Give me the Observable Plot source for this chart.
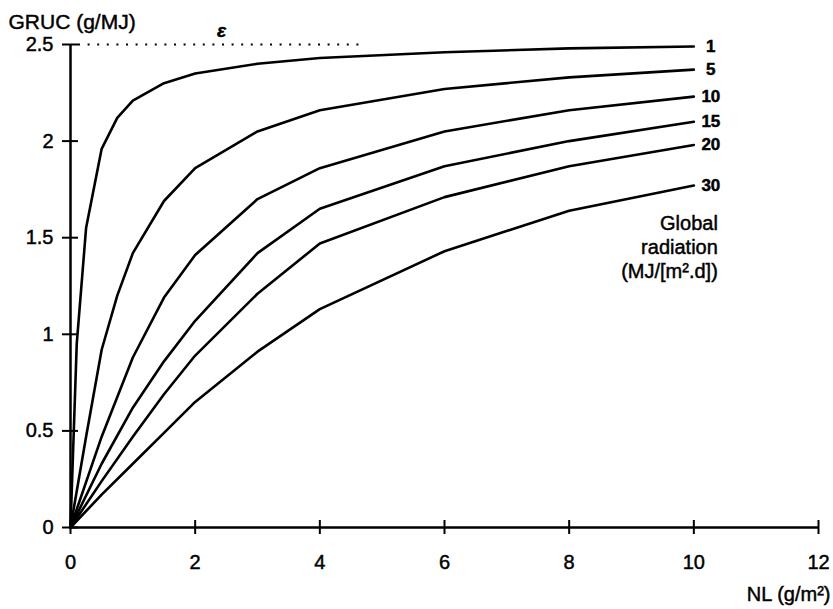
<!DOCTYPE html>
<html>
<head>
<meta charset="utf-8">
<script src="https://cdn.jsdelivr.net/npm/d3@7"></script>
<script src="https://cdn.jsdelivr.net/npm/@observablehq/plot@0.6"></script>
<style>
  body { margin: 0; background: #fff; }
  #chart svg { display: block; }
  #chart svg text { paint-order: stroke; stroke: #000; stroke-width: 0.45px; }
</style>
</head>
<body>
<div id="chart"></div>
<script>
// Growth radiation use coefficient (GRUC) against leaf nitrogen (NL),
// one curve per daily global radiation level.
const radiation = [1, 5, 10, 15, 20, 30];

const nlR1 = [0, 0.1, 0.25, 0.5, 0.75, 1, 1.5, 2, 3, 4, 6, 8, 10];
const grucR1 = [0, 0.95, 1.55, 1.96, 2.12, 2.21, 2.30, 2.35, 2.40, 2.43, 2.46, 2.48, 2.49];

const nlR5 = [0, 0.25, 0.5, 0.75, 1, 1.5, 2, 3, 4, 6, 8, 10];
const grucR5 = [0, 0.47, 0.92, 1.20, 1.42, 1.69, 1.86, 2.05, 2.16, 2.27, 2.33, 2.37];

const nlR10 = [0, 0.5, 1, 1.5, 2, 3, 4, 6, 8, 10];
const grucR10 = [0, 0.47, 0.88, 1.19, 1.41, 1.70, 1.86, 2.05, 2.16, 2.23];

const nlR15 = [0, 0.5, 1, 1.5, 2, 3, 4, 6, 8, 10];
const grucR15 = [0, 0.33, 0.62, 0.86, 1.07, 1.42, 1.65, 1.87, 2.00, 2.10];

const nlR20 = [0, 0.5, 1, 1.5, 2, 3, 4, 6, 8, 10];
const grucR20 = [0, 0.24, 0.47, 0.69, 0.89, 1.21, 1.47, 1.71, 1.87, 1.98];

const nlR30 = [0, 0.5, 1, 1.5, 2, 3, 4, 6, 8, 10];
const grucR30 = [0, 0.17, 0.33, 0.49, 0.65, 0.91, 1.13, 1.43, 1.64, 1.77];

// Maximum radiation use efficiency (epsilon) and the NL span of its dotted guide
const epsilon = 2.5;
const epsilonSpan = [0, 4.65];

const xTicks = [0, 2, 4, 6, 8, 10, 12];
const yTicks = [0, 0.5, 1, 1.5, 2, 2.5];

const seriesNL = [nlR1, nlR5, nlR10, nlR15, nlR20, nlR30];
const seriesGRUC = [grucR1, grucR5, grucR10, grucR15, grucR20, grucR30];

// Long table: one row per vertex of each curve
const rows = radiation.flatMap((r, k) =>
  seriesNL[k].map((nl, i) => ({radiation: r, nl, gruc: seriesGRUC[k][i]}))
);
// Curve end points carry the radiation labels
const ends = radiation.map((r, k) => ({
  radiation: r,
  nl: seriesNL[k][seriesNL[k].length - 1],
  gruc: seriesGRUC[k][seriesGRUC[k].length - 1]
}));
const lastEnd = ends[ends.length - 1];

const font = "'Liberation Sans', Arial, sans-serif";

const chart = Plot.plot({
  width: 833,
  height: 609,
  marginLeft: 70,
  marginRight: 15,
  marginTop: 44,
  marginBottom: 82,
  style: {fontFamily: font, fontSize: "20px", color: "#000", background: "#fff"},
  x: {domain: [0, 12]},
  y: {domain: [0, 2.5]},
  marks: [
    // dotted epsilon guide
    Plot.ruleY([epsilon], {
      x1: epsilonSpan[0], x2: epsilonSpan[1],
      stroke: "#000", strokeWidth: 2, strokeDasharray: "2,7.6", insetLeft: 8
    }),
    Plot.text(["ε"], {
      x: (epsilonSpan[0] + epsilonSpan[1]) / 2 + 0.1, y: epsilon,
      dy: -14, fontStyle: "italic", fontSize: 19, fontWeight: "bold"
    }),
    // axis lines
    Plot.ruleX([0], {y1: 0, y2: 2.5, stroke: "#000", strokeWidth: 2.5}),
    Plot.ruleY([0], {x1: 0, x2: 12, stroke: "#000", strokeWidth: 2.5}),
    // tick marks crossing the axes
    Plot.ruleX(xTicks, {x: (d) => d, y1: 0, y2: 0, insetTop: 7, insetBottom: 7, stroke: "#000", strokeWidth: 2}),
    Plot.ruleY(yTicks, {y: (d) => d, x1: 0, x2: 0, insetLeft: 8, insetRight: 8, stroke: "#000", strokeWidth: 2}),
    // tick labels
    Plot.axisX({ticks: xTicks, tickSize: 0, tickPadding: 27, label: null, fontSize: 20, tickFormat: (d) => String(d)}),
    Plot.axisY({ticks: yTicks, tickSize: 0, tickPadding: 17, label: null, fontSize: 20, tickFormat: (d) => String(d)}),
    // curves
    Plot.line(rows, {
      x: "nl", y: "gruc", z: "radiation",
      stroke: "#000", strokeWidth: 2.6, strokeLinejoin: "round"
    }),
    // radiation labels at curve ends
    Plot.text(ends, {
      x: "nl", y: "gruc", text: (d) => String(d.radiation),
      dx: 17, fontWeight: "bold", fontSize: 17
    }),
    Plot.text(["Global\nradiation\n(MJ/[m².d])"], {
      x: lastEnd.nl, y: lastEnd.gruc, dx: 24, dy: 61,
      textAnchor: "end", lineAnchor: "middle", lineHeight: 1.2, fontSize: 20
    }),
    // axis titles
    Plot.text(["GRUC (g/MJ)"], {
      frameAnchor: "top-left", dx: -62, dy: -16,
      textAnchor: "start", lineAnchor: "bottom", fontSize: 21
    }),
    Plot.text(["NL (g/m²)"], {
      frameAnchor: "bottom-right", dx: 12, dy: 73,
      textAnchor: "end", lineAnchor: "bottom", fontSize: 20
    })
  ]
});

document.getElementById("chart").append(chart);
</script>
</body>
</html>
